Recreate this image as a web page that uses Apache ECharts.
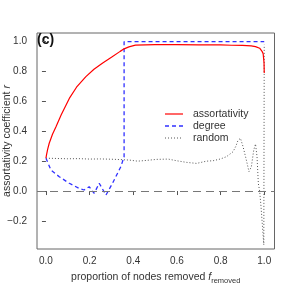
<!DOCTYPE html>
<html>
<head>
<meta charset="utf-8">
<script src="https://cdn.jsdelivr.net/npm/echarts@6/dist/echarts.min.js"></script>
<style>html,body{margin:0;padding:0;background:#fff}#c{width:291px;height:291px}</style>
</head>
<body>
<div id="c"></div>
<script>
var xTicks = [0, 0.2, 0.4, 0.6, 0.8, 1.0];
var yTicks = [-0.2, 0, 0.2, 0.4, 0.6, 0.8, 1.0];
var legendNames = ['assortativity', 'degree', 'random'];

var assortX = [0, 0.003, 0.008, 0.015, 0.03, 0.046, 0.07, 0.107, 0.14, 0.183, 0.22, 0.26, 0.3, 0.34, 0.358, 0.38, 0.41, 0.5, 0.6, 0.7, 0.8, 0.85, 0.9, 0.94, 0.96, 0.979, 0.99, 0.995, 0.999, 1.0];
var assortY = [0.22, 0.245, 0.28, 0.32, 0.38, 0.43, 0.51, 0.62, 0.695, 0.766, 0.815, 0.857, 0.895, 0.935, 0.952, 0.965, 0.977, 0.98, 0.98, 0.978, 0.978, 0.976, 0.975, 0.972, 0.967, 0.956, 0.935, 0.92, 0.86, 0.79];

var degreeX = [0, 0.023, 0.061, 0.107, 0.152, 0.175, 0.198, 0.221, 0.244, 0.275, 0.305, 0.343, 0.358, 0.358, 1.0];
var degreeY = [0.22, 0.14, 0.096, 0.052, 0.018, 0.007, 0.029, -0.015, 0.052, -0.027, 0.052, 0.163, 0.23, 1.0, 1.0];

var randomX = [0, 0.05, 0.1, 0.15, 0.2, 0.25, 0.3, 0.35, 0.384, 0.42, 0.46, 0.507, 0.56, 0.598, 0.644, 0.69, 0.735, 0.766, 0.8, 0.827, 0.857, 0.87, 0.88, 0.891, 0.903, 0.918, 0.93, 0.941, 0.952, 0.96, 0.967, 0.973, 0.979, 0.985, 0.998, 1.0];
var randomY = [0.22, 0.218, 0.216, 0.217, 0.214, 0.215, 0.213, 0.21, 0.207, 0.2, 0.205, 0.212, 0.214, 0.203, 0.192, 0.185, 0.2, 0.203, 0.215, 0.23, 0.263, 0.3, 0.34, 0.353, 0.297, 0.208, 0.13, 0.163, 0.275, 0.315, 0.23, 0.05, 0.0, -0.1, -0.36, 0.98];

function pairs(xs, ys) { return xs.map(function (x, i) { return [x, ys[i]]; }); }

var FONT = 'Liberation Sans';
var RED = '#ff0000', BLUE = '#3030ff', GRAY = '#555';
var legendStyles = [
  { stroke: RED, lineWidth: 1.2, lineDash: null },
  { stroke: BLUE, lineWidth: 1.3, lineDash: [4, 3] },
  { stroke: GRAY, lineWidth: 1, lineDash: [1, 2] }
];
var graphics = [{
  type: 'text', left: 37, top: 33,
  style: { text: '(c)', font: 'bold 14px "Liberation Sans"', fill: '#111' }
}];
legendNames.forEach(function (n, i) {
  var y = 114 + i * 12;
  graphics.push({ type: 'line', shape: { x1: 165, y1: y, x2: 183, y2: y }, style: legendStyles[i], silent: true });
  graphics.push({ type: 'text', x: 193, y: y, style: { text: n, font: '10.5px "Liberation Sans"', fill: '#333', verticalAlign: 'middle' }, silent: true });
});

var chart = echarts.init(document.getElementById('c'), null, { renderer: 'canvas' });
chart.setOption({
  animation: false,
  backgroundColor: '#fff',
  textStyle: { fontFamily: FONT },
  grid: { left: 37, top: 33, right: 16.5, bottom: 42, outerBoundsMode: 'none', containLabel: false,
    show: true, borderColor: '#666', borderWidth: 1, backgroundColor: 'transparent' },
  xAxis: {
    type: 'value', min: -0.041, max: 1.047,
    axisLine: { show: false },
    splitLine: { show: false },
    axisTick: { show: true, customValues: xTicks, length: 4, lineStyle: { color: '#555' } },
    axisLabel: { customValues: xTicks, margin: 7, color: '#333', fontSize: 10, fontFamily: FONT, hideOverlap: false,
      formatter: function (v) { return v.toFixed(1); } },
    name: '{a|proportion of nodes removed }{f|f}{s|removed}',
    nameLocation: 'middle', nameGap: 21, nameMoveOverlap: false,
    nameTextStyle: { rich: {
      a: { fontSize: 10.5, color: '#333', fontFamily: FONT },
      f: { fontSize: 10.5, color: '#333', fontFamily: FONT, fontStyle: 'italic' },
      s: { fontSize: 7.5, color: '#333', fontFamily: FONT, padding: [7, 0, 0, 0] }
    } }
  },
  yAxis: {
    type: 'value', min: -0.388, max: 1.058,
    axisLine: { show: false },
    splitLine: { show: false },
    axisTick: { show: true, customValues: yTicks, length: 4, lineStyle: { color: '#555' } },
    axisLabel: { customValues: yTicks, margin: 10, color: '#333', fontSize: 10, fontFamily: FONT, hideOverlap: false,
      formatter: function (v) { return (v < 0 ? '\u2212' : '') + Math.abs(v).toFixed(1); } },
    name: '{a|assortativity coefficient }{r|r}',
    nameLocation: 'middle', nameGap: 24, nameMoveOverlap: false,
    nameTextStyle: { rich: {
      a: { fontSize: 10.5, color: '#333', fontFamily: FONT },
      r: { fontSize: 10.5, color: '#333', fontFamily: FONT, fontStyle: 'italic' }
    } }
  },
  graphic: graphics,
  series: [
    {
      name: 'random', type: 'line', data: pairs(randomX, randomY), symbol: 'none', z: 2,
      lineStyle: { color: GRAY, width: 1, type: [1, 2] }, itemStyle: { color: GRAY },
      markLine: { silent: true, symbol: 'none', label: { show: false },
        lineStyle: { color: '#777', width: 1.2, type: [8, 5] }, data: [{ yAxis: 0 }] }
    },
    {
      name: 'degree', type: 'line', data: pairs(degreeX, degreeY), symbol: 'none', z: 3,
      lineStyle: { color: BLUE, width: 1.3, type: [4, 3] }, itemStyle: { color: BLUE }
    },
    {
      name: 'assortativity', type: 'line', data: pairs(assortX, assortY), symbol: 'none', z: 4,
      lineStyle: { color: RED, width: 1.2 }, itemStyle: { color: RED }
    }
  ]
});
</script>
</body>
</html>
